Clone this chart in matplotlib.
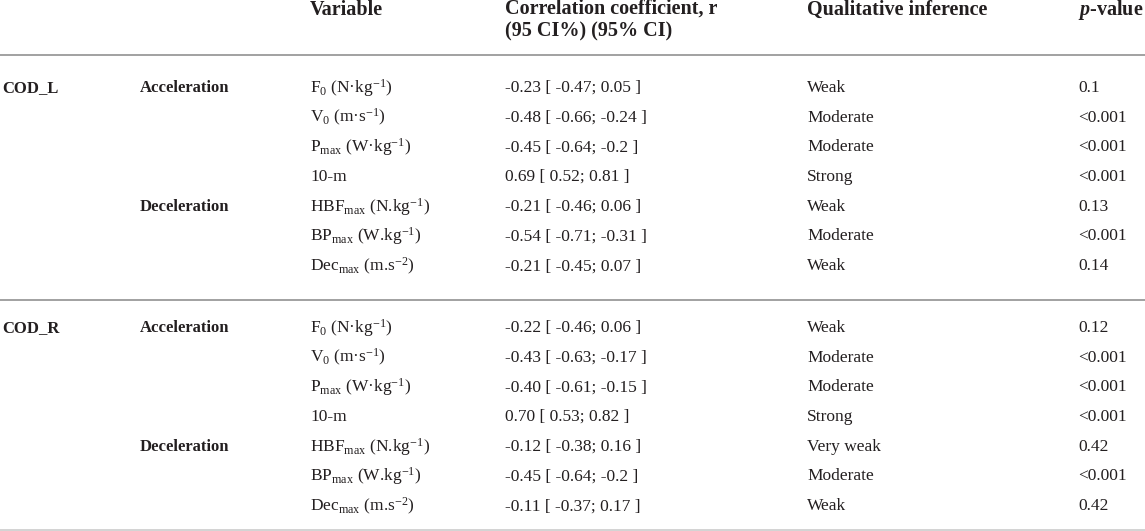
import matplotlib
matplotlib.use("Agg")
import matplotlib.pyplot as plt

plt.rcParams['font.family'] = ['Liberation Serif', 'DejaVu Serif']
plt.rcParams['mathtext.fontset'] = 'custom'
plt.rcParams['mathtext.rm'] = 'Liberation Serif'
plt.rcParams['mathtext.it'] = 'Liberation Serif:italic'
plt.rcParams['mathtext.bf'] = 'Liberation Serif:bold'
plt.rcParams['mathtext.bfit'] = 'Liberation Serif:italic:bold'

# table content
headers = ["Variable", "Correlation coefficient, r\n(95 CI%) (95% CI)",
           "Qualitative inference", r"$\mathbfit{p}$-value"]
groups = ["COD_L", "COD_R"]
phases = ["Acceleration", "Deceleration"]
variables = [r"F$_0$ (N·kg$^{-1}$)", r"V$_0$ (m·s$^{-1}$)", r"P$_{\rm max}$ (W·kg$^{-1}$)",
             "10-m", r"HBF$_{\rm max}$ (N.kg$^{-1}$)", r"BP$_{\rm max}$ (W.kg$^{-1}$)",
             r"Dec$_{\rm max}$ (m.s$^{-2}$)"]
phase_of_var = [0, 0, 0, 0, 1, 1, 1]
r_vals = {
    "COD_L": ["-0.23", "-0.48", "-0.45", "0.69", "-0.21", "-0.54", "-0.21"],
    "COD_R": ["-0.22", "-0.43", "-0.40", "0.70", "-0.12", "-0.45", "-0.11"],
}
ci_low = {
    "COD_L": ["-0.47", "-0.66", "-0.64", "0.52", "-0.46", "-0.71", "-0.45"],
    "COD_R": ["-0.46", "-0.63", "-0.61", "0.53", "-0.38", "-0.64", "-0.37"],
}
ci_high = {
    "COD_L": ["0.05", "-0.24", "-0.2", "0.81", "0.06", "-0.31", "0.07"],
    "COD_R": ["0.06", "-0.17", "-0.15", "0.82", "0.16", "-0.2", "0.17"],
}
inference = {
    "COD_L": ["Weak", "Moderate", "Moderate", "Strong", "Weak", "Moderate", "Weak"],
    "COD_R": ["Weak", "Moderate", "Moderate", "Strong", "Very weak", "Moderate", "Weak"],
}
p_vals = {
    "COD_L": ["0.1", "<0.001", "<0.001", "<0.001", "0.13", "<0.001", "0.14"],
    "COD_R": ["0.12", "<0.001", "<0.001", "<0.001", "0.42", "<0.001", "0.42"],
}

W, H = 1145, 531
fig = plt.figure(figsize=(W / 100, H / 100), dpi=100)
ax = fig.add_axes([0, 0, 1, 1])
ax.set_xlim(0, W)
ax.set_ylim(H, 0)
ax.axis('off')

col_x = [2, 140, 310, 505, 807, 1078]
body_fs = 12.5
bold_fs = 12
head_fs = 14.5
txt_col = '#231f20'

# header
ax.text(col_x[2], 10, headers[0], fontsize=head_fs, fontweight='bold', va='center', color=txt_col)
ax.text(col_x[3], 20, headers[1], fontsize=head_fs, fontweight='bold', va='center',
        color=txt_col, linespacing=1.2)
ax.text(col_x[4], 10, headers[2], fontsize=head_fs, fontweight='bold', va='center', color=txt_col)
ax.text(col_x[5], 10, headers[3], fontsize=head_fs, fontweight='bold', va='center', color=txt_col)

ax.plot([0, W], [55, 55], color='#9a9a9a', lw=1.3)

row_step = 29.7
group_start = [88, 328]
for g, y0 in zip(groups, group_start):
    ax.text(col_x[0], y0, g, fontsize=bold_fs, fontweight='bold', va='center', color=txt_col)
    shown = set()
    for i, var in enumerate(variables):
        y = y0 + i * row_step
        ph = phase_of_var[i]
        if ph not in shown:
            ax.text(col_x[1], y, phases[ph], fontsize=bold_fs, fontweight='bold',
                    va='center', color=txt_col)
            shown.add(ph)
        ax.text(col_x[2], y, var, fontsize=body_fs, va='center', color=txt_col)
        ax.text(col_x[3], y, f"{r_vals[g][i]} [ {ci_low[g][i]}; {ci_high[g][i]} ]",
                fontsize=body_fs, va='center', color=txt_col)
        ax.text(col_x[4], y, inference[g][i], fontsize=body_fs, va='center', color=txt_col)
        ax.text(col_x[5], y, p_vals[g][i], fontsize=body_fs, va='center', color=txt_col)

ax.plot([0, W], [300, 300], color='#9a9a9a', lw=1.3)
ax.plot([0, W], [529.5, 529.5], color='#d0d0d0', lw=1.3)

fig.savefig("out.png", dpi=100)
